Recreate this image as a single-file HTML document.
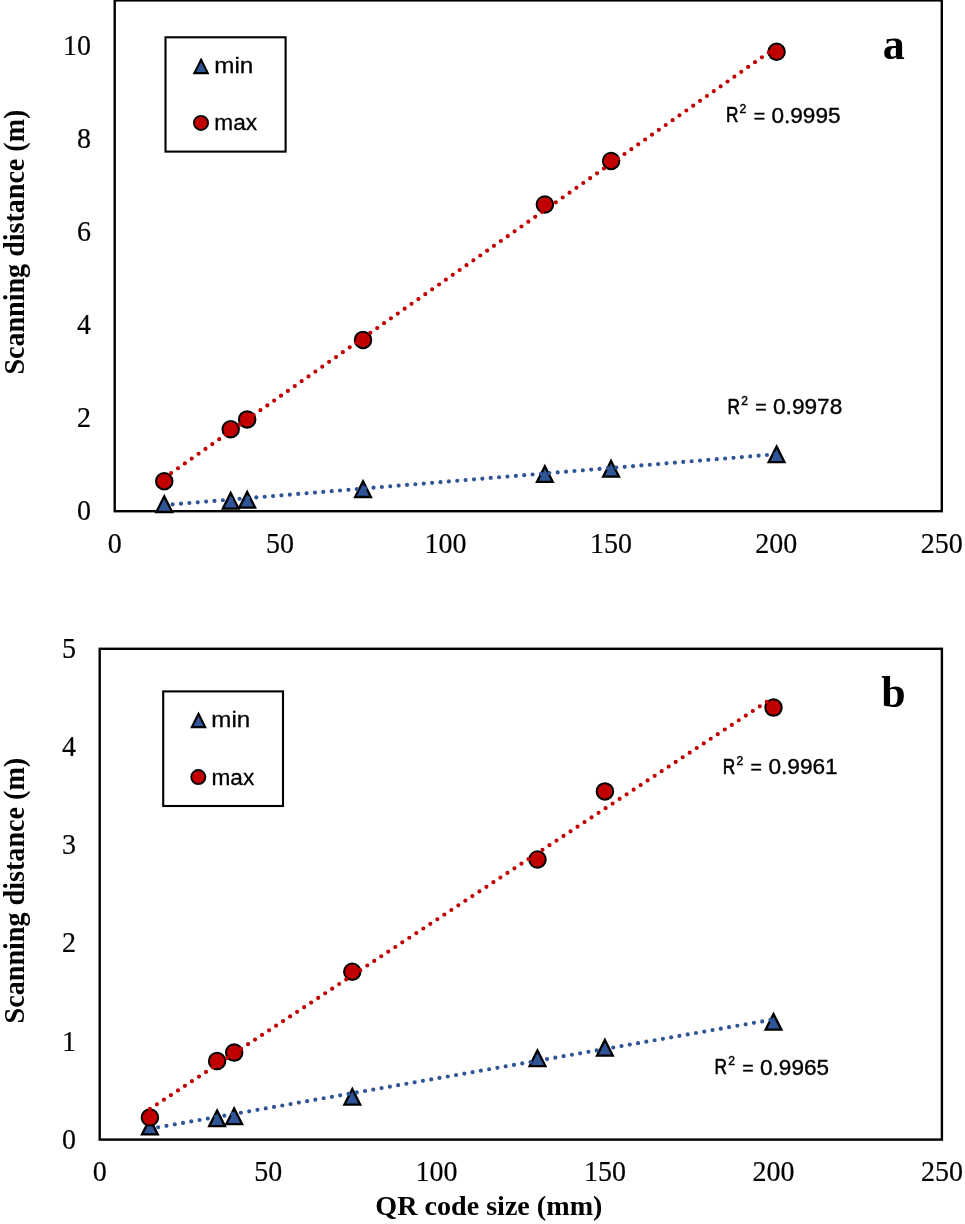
<!DOCTYPE html>
<html><head><meta charset="utf-8"><style>html,body{margin:0;padding:0;background:#fff;overflow:hidden}svg{display:block;will-change:transform}</style></head>
<body><svg width="965" height="1224" viewBox="0 0 965 1224">
<rect width="965" height="1224" fill="#fff"/>
<rect x="114.7" y="0.4" width="827.10" height="510.80" fill="none" stroke="#000" stroke-width="2.4"/>
<text transform="translate(91.1,520.20) scale(1.0,1.05)" text-anchor="end" font-family="Liberation Serif" font-size="28" stroke="#000" stroke-width="0.2">0</text>
<text transform="translate(91.1,427.20) scale(1.0,1.05)" text-anchor="end" font-family="Liberation Serif" font-size="28" stroke="#000" stroke-width="0.2">2</text>
<text transform="translate(91.1,334.20) scale(1.0,1.05)" text-anchor="end" font-family="Liberation Serif" font-size="28" stroke="#000" stroke-width="0.2">4</text>
<text transform="translate(91.1,241.20) scale(1.0,1.05)" text-anchor="end" font-family="Liberation Serif" font-size="28" stroke="#000" stroke-width="0.2">6</text>
<text transform="translate(91.1,148.20) scale(1.0,1.05)" text-anchor="end" font-family="Liberation Serif" font-size="28" stroke="#000" stroke-width="0.2">8</text>
<text transform="translate(91.1,55.20) scale(1.0,1.05)" text-anchor="end" font-family="Liberation Serif" font-size="28" stroke="#000" stroke-width="0.2">10</text>
<text transform="translate(114.70,553.30) scale(1.0,1.05)" text-anchor="middle" font-family="Liberation Serif" font-size="28" stroke="#000" stroke-width="0.2">0</text>
<text transform="translate(280.10,553.30) scale(1.0,1.05)" text-anchor="middle" font-family="Liberation Serif" font-size="28" stroke="#000" stroke-width="0.2">50</text>
<text transform="translate(445.50,553.30) scale(1.0,1.05)" text-anchor="middle" font-family="Liberation Serif" font-size="28" stroke="#000" stroke-width="0.2">100</text>
<text transform="translate(610.90,553.30) scale(1.0,1.05)" text-anchor="middle" font-family="Liberation Serif" font-size="28" stroke="#000" stroke-width="0.2">150</text>
<text transform="translate(776.30,553.30) scale(1.0,1.05)" text-anchor="middle" font-family="Liberation Serif" font-size="28" stroke="#000" stroke-width="0.2">200</text>
<text transform="translate(941.70,553.30) scale(1.0,1.05)" text-anchor="middle" font-family="Liberation Serif" font-size="28" stroke="#000" stroke-width="0.2">250</text>
<path d="M164.25 496.30 L172.15 512.00 L156.35 512.00 Z" fill="#2F5597" stroke="#000" stroke-width="2.3"/>
<path d="M230.70 492.90 L238.60 508.60 L222.80 508.60 Z" fill="#2F5597" stroke="#000" stroke-width="2.3"/>
<path d="M247.20 491.90 L255.10 507.60 L239.30 507.60 Z" fill="#2F5597" stroke="#000" stroke-width="2.3"/>
<path d="M363.04 481.30 L370.94 497.00 L355.14 497.00 Z" fill="#2F5597" stroke="#000" stroke-width="2.3"/>
<path d="M544.87 466.20 L552.77 481.90 L536.97 481.90 Z" fill="#2F5597" stroke="#000" stroke-width="2.3"/>
<path d="M611.10 460.90 L619.00 476.60 L603.20 476.60 Z" fill="#2F5597" stroke="#000" stroke-width="2.3"/>
<path d="M776.60 446.50 L784.50 462.20 L768.70 462.20 Z" fill="#2F5597" stroke="#000" stroke-width="2.3"/>
<circle cx="164.25" cy="481.20" r="8.25" fill="#C00000" stroke="#000" stroke-width="2.0"/>
<circle cx="230.70" cy="429.20" r="8.25" fill="#C00000" stroke="#000" stroke-width="2.0"/>
<circle cx="247.20" cy="419.40" r="8.25" fill="#C00000" stroke="#000" stroke-width="2.0"/>
<circle cx="363.04" cy="339.90" r="8.25" fill="#C00000" stroke="#000" stroke-width="2.0"/>
<circle cx="544.87" cy="204.50" r="8.25" fill="#C00000" stroke="#000" stroke-width="2.0"/>
<circle cx="611.10" cy="160.95" r="8.25" fill="#C00000" stroke="#000" stroke-width="2.0"/>
<circle cx="776.60" cy="51.80" r="8.25" fill="#C00000" stroke="#000" stroke-width="2.0"/>
<path d="M164.25 477.90 L776.60 46.95" stroke="#C00000" stroke-width="4.2" stroke-linecap="round" stroke-dasharray="0 8.4" fill="none"/>
<path d="M164.25 505.10 L776.60 454.20" stroke="#2F5597" stroke-width="4.2" stroke-linecap="round" stroke-dasharray="0 8.4" fill="none"/>
<rect x="165.5" y="37.3" width="120.10" height="114.30" fill="#fff" stroke="#000" stroke-width="2.1"/>
<path d="M201.10 59.80 L207.81 73.14 L194.38 73.14 Z" fill="#2F5597" stroke="#000" stroke-width="2.1"/>
<circle cx="201.00" cy="122.90" r="7.1" fill="#C00000" stroke="#000" stroke-width="1.8"/>
<text transform="translate(214.27,72.65) scale(1.0550,0.9714)" font-family="Liberation Sans" font-size="23" stroke="#000" stroke-width="0.3">min</text>
<text transform="translate(214.37,129.56) scale(0.9855,0.9584)" font-family="Liberation Sans" font-size="23" stroke="#000" stroke-width="0.3">max</text>
<text transform="translate(725.89,122.32) scale(0.7186,0.9115)" font-family="Liberation Sans" font-size="24" stroke="#000" stroke-width="0.7">R</text>
<text transform="translate(739.60,113.47) scale(0.5036,0.4949)" font-family="Liberation Sans" font-size="24" stroke="#000" stroke-width="0.95">2</text>
<text transform="translate(753.65,121.50) scale(0.8139,0.7303)" font-family="Liberation Sans" font-size="24" stroke="#000" stroke-width="0.55">=</text>
<text transform="translate(771.46,122.61) scale(0.9412,0.9468)" font-family="Liberation Sans" font-size="24" stroke="#000" stroke-width="0.38">0.9995</text>
<text transform="translate(727.44,413.82) scale(0.7186,0.9115)" font-family="Liberation Sans" font-size="24" stroke="#000" stroke-width="0.7">R</text>
<text transform="translate(741.15,404.97) scale(0.5036,0.4949)" font-family="Liberation Sans" font-size="24" stroke="#000" stroke-width="0.95">2</text>
<text transform="translate(755.20,413.00) scale(0.8139,0.7303)" font-family="Liberation Sans" font-size="24" stroke="#000" stroke-width="0.55">=</text>
<text transform="translate(773.01,414.11) scale(0.9445,0.9468)" font-family="Liberation Sans" font-size="24" stroke="#000" stroke-width="0.38">0.9978</text>
<text transform="translate(882.68,59.02) scale(0.9590,0.9832)" font-family="Liberation Serif" font-weight="bold" font-size="46">a</text>
<text transform="translate(23.59,374.60) rotate(-90) scale(1.0025,1.0252)" font-family="Liberation Serif" font-weight="bold" font-size="28">Scanning distance (m)</text>
<rect x="99.7" y="648.8" width="842.20" height="490.80" fill="none" stroke="#000" stroke-width="2.4"/>
<text transform="translate(75.9,1148.80) scale(1.0,1.05)" text-anchor="end" font-family="Liberation Serif" font-size="28" stroke="#000" stroke-width="0.2">0</text>
<text transform="translate(75.9,1050.64) scale(1.0,1.05)" text-anchor="end" font-family="Liberation Serif" font-size="28" stroke="#000" stroke-width="0.2">1</text>
<text transform="translate(75.9,952.48) scale(1.0,1.05)" text-anchor="end" font-family="Liberation Serif" font-size="28" stroke="#000" stroke-width="0.2">2</text>
<text transform="translate(75.9,854.32) scale(1.0,1.05)" text-anchor="end" font-family="Liberation Serif" font-size="28" stroke="#000" stroke-width="0.2">3</text>
<text transform="translate(75.9,756.16) scale(1.0,1.05)" text-anchor="end" font-family="Liberation Serif" font-size="28" stroke="#000" stroke-width="0.2">4</text>
<text transform="translate(75.9,658.00) scale(1.0,1.05)" text-anchor="end" font-family="Liberation Serif" font-size="28" stroke="#000" stroke-width="0.2">5</text>
<text transform="translate(99.70,1181.30) scale(1.0,1.05)" text-anchor="middle" font-family="Liberation Serif" font-size="28" stroke="#000" stroke-width="0.2">0</text>
<text transform="translate(268.15,1181.30) scale(1.0,1.05)" text-anchor="middle" font-family="Liberation Serif" font-size="28" stroke="#000" stroke-width="0.2">50</text>
<text transform="translate(436.60,1181.30) scale(1.0,1.05)" text-anchor="middle" font-family="Liberation Serif" font-size="28" stroke="#000" stroke-width="0.2">100</text>
<text transform="translate(605.05,1181.30) scale(1.0,1.05)" text-anchor="middle" font-family="Liberation Serif" font-size="28" stroke="#000" stroke-width="0.2">150</text>
<text transform="translate(773.50,1181.30) scale(1.0,1.05)" text-anchor="middle" font-family="Liberation Serif" font-size="28" stroke="#000" stroke-width="0.2">200</text>
<text transform="translate(941.95,1181.30) scale(1.0,1.05)" text-anchor="middle" font-family="Liberation Serif" font-size="28" stroke="#000" stroke-width="0.2">250</text>
<path d="M149.90 1118.70 L157.80 1134.40 L142.00 1134.40 Z" fill="#2F5597" stroke="#000" stroke-width="2.3"/>
<path d="M217.10 1110.50 L225.00 1126.20 L209.20 1126.20 Z" fill="#2F5597" stroke="#000" stroke-width="2.3"/>
<path d="M234.20 1108.40 L242.10 1124.10 L226.30 1124.10 Z" fill="#2F5597" stroke="#000" stroke-width="2.3"/>
<path d="M352.30 1089.00 L360.20 1104.70 L344.40 1104.70 Z" fill="#2F5597" stroke="#000" stroke-width="2.3"/>
<path d="M537.50 1050.40 L545.40 1066.10 L529.60 1066.10 Z" fill="#2F5597" stroke="#000" stroke-width="2.3"/>
<path d="M604.90 1039.90 L612.80 1055.60 L597.00 1055.60 Z" fill="#2F5597" stroke="#000" stroke-width="2.3"/>
<path d="M773.50 1014.00 L781.40 1029.70 L765.60 1029.70 Z" fill="#2F5597" stroke="#000" stroke-width="2.3"/>
<circle cx="149.90" cy="1117.50" r="8.25" fill="#C00000" stroke="#000" stroke-width="2.0"/>
<circle cx="217.10" cy="1061.00" r="8.25" fill="#C00000" stroke="#000" stroke-width="2.0"/>
<circle cx="234.20" cy="1052.60" r="8.25" fill="#C00000" stroke="#000" stroke-width="2.0"/>
<circle cx="352.30" cy="971.70" r="8.25" fill="#C00000" stroke="#000" stroke-width="2.0"/>
<circle cx="537.50" cy="859.50" r="8.25" fill="#C00000" stroke="#000" stroke-width="2.0"/>
<circle cx="604.90" cy="791.40" r="8.25" fill="#C00000" stroke="#000" stroke-width="2.0"/>
<circle cx="773.50" cy="707.60" r="8.25" fill="#C00000" stroke="#000" stroke-width="2.0"/>
<path d="M149.90 1108.96 L773.50 697.33" stroke="#C00000" stroke-width="4.2" stroke-linecap="round" stroke-dasharray="0 8.4" fill="none"/>
<path d="M149.90 1128.71 L773.50 1019.42" stroke="#2F5597" stroke-width="4.2" stroke-linecap="round" stroke-dasharray="0 8.4" fill="none"/>
<rect x="163.2" y="691.4" width="119.80" height="114.60" fill="#fff" stroke="#000" stroke-width="2.1"/>
<path d="M198.50 713.79 L205.22 727.14 L191.78 727.14 Z" fill="#2F5597" stroke="#000" stroke-width="2.1"/>
<circle cx="198.30" cy="777.10" r="7.1" fill="#C00000" stroke="#000" stroke-width="1.8"/>
<text transform="translate(211.34,726.61) scale(1.0503,0.9486)" font-family="Liberation Sans" font-size="23" stroke="#000" stroke-width="0.3">min</text>
<text transform="translate(211.44,784.56) scale(0.9853,0.9504)" font-family="Liberation Sans" font-size="23" stroke="#000" stroke-width="0.3">max</text>
<text transform="translate(722.84,773.52) scale(0.7186,0.9115)" font-family="Liberation Sans" font-size="24" stroke="#000" stroke-width="0.7">R</text>
<text transform="translate(736.55,764.67) scale(0.5036,0.4949)" font-family="Liberation Sans" font-size="24" stroke="#000" stroke-width="0.95">2</text>
<text transform="translate(750.60,772.70) scale(0.8139,0.7303)" font-family="Liberation Sans" font-size="24" stroke="#000" stroke-width="0.55">=</text>
<text transform="translate(768.41,773.81) scale(0.9445,0.9468)" font-family="Liberation Sans" font-size="24" stroke="#000" stroke-width="0.38">0.9961</text>
<text transform="translate(714.46,1074.32) scale(0.7186,0.9115)" font-family="Liberation Sans" font-size="24" stroke="#000" stroke-width="0.7">R</text>
<text transform="translate(728.17,1065.47) scale(0.5036,0.4949)" font-family="Liberation Sans" font-size="24" stroke="#000" stroke-width="0.95">2</text>
<text transform="translate(742.22,1073.50) scale(0.8139,0.7303)" font-family="Liberation Sans" font-size="24" stroke="#000" stroke-width="0.55">=</text>
<text transform="translate(760.03,1074.61) scale(0.9412,0.9468)" font-family="Liberation Sans" font-size="24" stroke="#000" stroke-width="0.38">0.9965</text>
<text transform="translate(881.36,707.24) scale(0.9540,0.9502)" font-family="Liberation Serif" font-weight="bold" font-size="46">b</text>
<text transform="translate(23.59,1023.41) rotate(-90) scale(1.0048,1.0252)" font-family="Liberation Serif" font-weight="bold" font-size="28">Scanning distance (m)</text>
<text transform="translate(375.29,1214.85) scale(1.0045,0.9822)" font-family="Liberation Serif" font-weight="bold" font-size="28">QR code size (mm)</text>
</svg></body></html>
